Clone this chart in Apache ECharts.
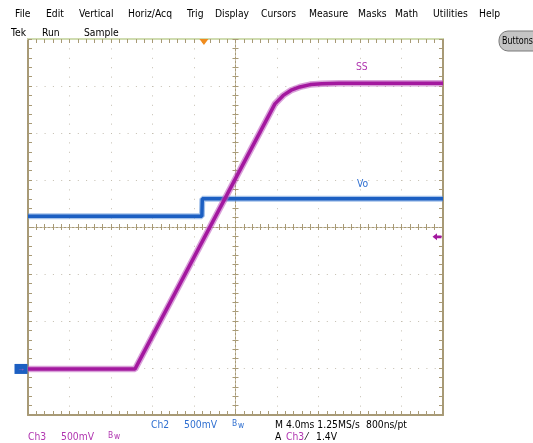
<!DOCTYPE html>
<html><head><meta charset="utf-8">
<script src="https://cdn.jsdelivr.net/npm/echarts@6/dist/echarts.min.js"></script>
<style>html,body{margin:0;padding:0;background:#fff;}#c{width:533px;height:443px;}</style>
</head><body><div id="c"></div>
<script>
// Positions in screen divisions: horizontal from centre (4.0 ms/div), vertical from centre (500 mV/div)
const ssTime  = [-5.0, -2.42, 0.95, 1.15, 1.34, 1.55, 1.80, 2.08, 2.50, 5.0];
const ssLevel = [-3.02, -3.02, 2.62, 2.80, 2.91, 2.98, 3.03, 3.05, 3.06, 3.06];
const voTime  = [-5.0, -0.81, -0.80, 5.0];
const voLevel = [0.23, 0.23, 0.60, 0.60];
const trigTime = -0.76;
const trigLevel = -0.21;
const menuItems = ['File','Edit','Vertical','Horiz/Acq','Trig','Display','Cursors','Measure','Masks','Math','Utilities','Help'];
const statusItems = ['Tek','Run','Sample'];

const menuX = [15,46,79,128,187,215,261,309,358,395,433,479];
const statusX = [11,42,84];

const tan = '#a89a76';
const dotC = '#c4beb0';
const purple = '#a3189f';
const blue = '#1c5fc2';
const font = 'Tahoma,"DejaVu Sans","Liberation Sans",Arial,sans-serif';
const SX = 0.84;

const X = {type:'value', min:-5, max:5, interval:1, axisLabel:{show:false}};
const Y = {type:'value', min:-4, max:4, interval:1, axisLabel:{show:false}};
function tickSet(inside, len){
  return {
    axisTick:{show:true, inside:inside, length:len, lineStyle:{color:tan, width:1}},
    minorTick:{show:true, splitNumber:5, length:len, lineStyle:{color:tan, width:1}}
  };
}

const chart = echarts.init(document.getElementById('c'), null, {renderer:'canvas'});

function txt(x, y, t, color, size, sx){
  return {type:'text', x:x, y:y, scaleX:sx, style:{text:t, font:size+'px '+font, fill:color, verticalAlign:'middle'}};
}
const graphics = [];
menuItems.forEach((t,i)=>graphics.push(txt(menuX[i], 14, t, '#000', 11, SX)));
statusItems.forEach((t,i)=>graphics.push(txt(statusX[i], 33, t, '#000', 11, SX)));
graphics.push({type:'rect', shape:{x:499, y:31, width:44, height:20, r:9}, style:{fill:'#c4c4c4', stroke:'#7a7a7a', lineWidth:1}});
graphics.push(txt(502, 41, 'Buttons', '#000', 10, 0.8));
// trace labels
graphics.push(txt(356, 67, 'SS', '#b035b0', 11, SX));
graphics.push(txt(357, 184, 'Vo', '#2f6fd0', 11, SX));
// bottom readouts
const row1 = 425.5, row2 = 437;
[
 [151,row1,'Ch2','#2f6fd0',11],[184,row1,'500mV','#2f6fd0',11],[232,row1-1.5,'B','#2f6fd0',9],[238,row1,'w','#2f6fd0',9],
 [275,row1,'M 4.0ms 1.25MS/s','#000',11],[366,row1,'800ns/pt','#000',11],
 [28,row2,'Ch3','#b035b0',11],[61,row2,'500mV','#b035b0',11],[108,row2-1.5,'B','#b035b0',9],[114,row2,'w','#b035b0',9],
 [275,row2,'A','#000',11],[286,row2,'Ch3','#b035b0',11],[306,row2,'⁄','#000',11],[316,row2,'1.4V','#000',11]
].forEach(a=>graphics.push(txt(a[0], a[1], a[2], a[3], a[4], SX)));

chart.setOption({
  animation:false,
  backgroundColor:'#fff',
  grid:{left:28, top:39, width:415, height:376, containLabel:false},
  xAxis:[
    Object.assign({}, X, {position:'bottom', axisLine:{onZero:false, lineStyle:{color:tan, width:2}},
      splitLine:{show:true, lineStyle:{color:dotC, width:1, type:[1,8.4]}}}, tickSet(true,4)),
    Object.assign({}, X, {position:'top', axisLine:{onZero:false, lineStyle:{color:'#cfdcb0', width:2}},
      splitLine:{show:false}}, tickSet(true,4)),
    Object.assign({}, X, {position:'bottom', axisLine:{onZero:true, onZeroAxisIndex:0, lineStyle:{color:tan, width:1, type:[2,2]}},
      splitLine:{show:false}}, tickSet(true,3)),
    Object.assign({}, X, {position:'bottom', axisLine:{onZero:true, onZeroAxisIndex:0, lineStyle:{color:tan, width:1, type:[2,2]}},
      splitLine:{show:false}}, tickSet(false,3))
  ],
  yAxis:[
    Object.assign({}, Y, {position:'left', axisLine:{onZero:false, show:true, lineStyle:{color:tan, width:2}},
      splitLine:{show:true, lineStyle:{color:dotC, width:1, type:[1,7.3]}}}, tickSet(true,4)),
    Object.assign({}, Y, {position:'right', axisLine:{onZero:false, show:true, lineStyle:{color:tan, width:2}},
      splitLine:{show:false}}, tickSet(true,4)),
    Object.assign({}, Y, {position:'left', axisLine:{onZero:true, onZeroAxisIndex:0, show:true, lineStyle:{color:tan, width:1, type:[2,2]}},
      splitLine:{show:false}}, tickSet(true,3)),
    Object.assign({}, Y, {position:'left', axisLine:{onZero:true, onZeroAxisIndex:0, show:true, lineStyle:{color:tan, width:1, type:[2,2]}},
      splitLine:{show:false}}, tickSet(false,3))
  ],
  series:[
    {type:'line', name:'Vo fuzz', data:voTime.map((t,i)=>[t,voLevel[i]]), symbol:'none', silent:true,
      lineStyle:{color:'#5b8fd8', width:6, opacity:0.55}, z:2},
    {type:'line', name:'Vo', data:voTime.map((t,i)=>[t,voLevel[i]]), symbol:'none', silent:true,
      lineStyle:{color:blue, width:3.5}, z:3,
      markPoint:{silent:true, animation:false, data:[
        {coord:[-5, ssLevel[0]], symbol:'rect', symbolSize:[13,10], symbolOffset:[-7,0], itemStyle:{color:blue},
          label:{show:true, formatter:'→', color:'#c060c0', fontSize:8, fontWeight:'bold'}}
      ]}},
    {type:'line', name:'SS fuzz', data:ssTime.map((t,i)=>[t,ssLevel[i]]), symbol:'none', silent:true,
      lineStyle:{color:'#c060c0', width:6.5, opacity:0.6}, z:4},
    {type:'line', name:'SS', data:ssTime.map((t,i)=>[t,ssLevel[i]]), symbol:'none', silent:true,
      lineStyle:{color:purple, width:3.5}, z:5,
      markPoint:{silent:true, animation:false, data:[
        {coord:[5, trigLevel], symbol:'path://M0,5 L5,0 L5,3 L10,3 L10,7 L5,7 L5,10 Z', symbolSize:[9,7], symbolOffset:[-6,0],
          itemStyle:{color:purple}, label:{show:false}},
        {coord:[trigTime, 4], symbol:'triangle', symbolRotate:180, symbolSize:[9,6], symbolOffset:[0,3],
          itemStyle:{color:'#f08c1e'}, label:{show:false}}
      ]}}
  ],
  graphic:graphics
});
</script></body></html>
